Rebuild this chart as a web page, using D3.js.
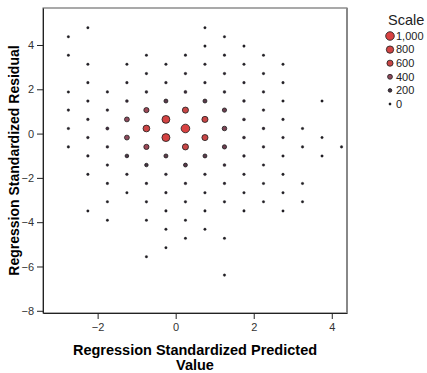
<!DOCTYPE html>
<html>
<head>
<meta charset="utf-8">
<script src="https://cdn.jsdelivr.net/npm/d3@7"></script>
<style>
  body { margin: 0; background: #fff; }
  svg { font-family: Arial, "Liberation Sans", sans-serif; }
</style>
</head>
<body>
<div id="chart"></div>
<script>
// hex-binned predicted value columns
const predictedBins = [-2.75, -2.25, -1.75, -1.25, -0.75, -0.25, 0.25, 0.75, 1.25, 1.75, 2.25, 2.75, 3.25, 3.75, 4.25];

// residual bin centres in each column (top to bottom)
const residualsByBin = [
    [4.37, 3.54, 1.88, 1.06, 0.23, -0.60],
    [4.78, 3.13, 2.30, 1.47, 0.64, -0.18, -1.01, -1.84, -3.49],
    [1.88, 1.06, 0.23, -0.60, -1.42, -2.25, -3.08, -3.91],
    [3.13, 2.30, 1.47, 0.64, -0.18, -1.01, -1.84, -2.67],
    [3.54, 2.71, 1.88, 1.06, 0.23, -0.60, -1.42, -2.25, -3.08, -3.91, -5.56],
    [3.13, 2.30, 1.47, 0.64, -0.18, -1.01, -1.84, -2.67, -3.49, -4.32, -5.15],
    [3.54, 2.71, 1.88, 1.06, 0.23, -0.60, -1.42, -2.25, -3.08, -3.91, -4.73],
    [4.78, 3.95, 3.13, 2.30, 1.47, 0.64, -0.18, -1.01, -1.84, -2.67, -3.49, -4.32],
    [4.37, 3.54, 2.71, 1.88, 1.06, 0.23, -0.60, -1.42, -2.25, -3.08, -4.73, -6.39],
    [3.95, 3.13, 2.30, 1.47, 0.64, -0.18, -1.01, -1.84, -2.67, -3.49],
    [3.54, 2.71, 1.88, 1.06, 0.23, -0.60, -1.42, -2.25, -3.08],
    [3.13, 2.30, 1.47, 0.64, -0.18, -1.01, -1.84, -2.67, -3.49],
    [0.23, -0.60, -2.25, -3.08],
    [1.47, -0.18, -1.01],
    [-0.60]
];

// number of cases in each bin (same layout as above)
const countsByBin = [
    [20, 25, 30, 40, 40, 30],
    [20, 30, 40, 50, 60, 60, 50, 30, 20],
    [40, 70, 150, 80, 50, 40, 30, 20],
    [30, 50, 100, 400, 400, 200, 60, 30],
    [30, 40, 80, 450, 700, 450, 180, 60, 40, 30, 20],
    [40, 60, 250, 880, 900, 260, 80, 50, 40, 30, 20],
    [40, 60, 120, 600, 1000, 600, 240, 70, 50, 30, 20],
    [20, 30, 50, 60, 250, 600, 600, 250, 70, 40, 30, 20],
    [20, 40, 60, 80, 300, 350, 300, 100, 50, 40, 20, 20],
    [30, 40, 50, 80, 100, 100, 70, 50, 40, 30],
    [30, 40, 50, 60, 80, 60, 40, 30, 20],
    [30, 40, 40, 50, 50, 40, 30, 30, 20],
    [30, 30, 20, 20],
    [20, 20, 20],
    [20]
];

const xTicks = [-2, 0, 2, 4];
const yTicks = [-8, -6, -4, -2, 0, 2, 4];
const legendValues = [1000, 800, 600, 400, 200, 0];

const points = [];
predictedBins.forEach((px, i) => {
    residualsByBin[i].forEach((ry, j) => {
        points.push({ x: px, y: ry, n: countsByBin[i][j] });
    });
});

const width = 427, height = 373;
const plot = { left: 43, top: 8, right: 347, bottom: 313 };

const svg = d3.select("#chart").append("svg")
    .attr("width", width)
    .attr("height", height);

const x = d3.scaleLinear().domain([-3.4, 4.39]).range([plot.left, plot.right]);
const y = d3.scaleLinear().domain([-8.1, 5.67]).range([plot.bottom, plot.top]);
const r = d3.scaleLinear().domain([0, 1000]).range([1.2, 4.3]);
const color = d3.scaleLinear()
    .domain([0, 200, 400, 600, 1000])
    .range(["#1c1c22", "#4a3444", "#8e4a5c", "#c84646", "#d94242"]);

// frame
svg.append("rect")
    .attr("x", plot.left)
    .attr("y", plot.top)
    .attr("width", plot.right - plot.left)
    .attr("height", plot.bottom - plot.top)
    .attr("fill", "#fff")
    .attr("stroke", "#555")
    .attr("stroke-width", 1);

svg.append("line")
    .attr("x1", plot.right).attr("x2", plot.right)
    .attr("y1", plot.top).attr("y2", plot.bottom)
    .attr("stroke", "#888").attr("stroke-width", 2);

const xAxis = svg.append("g")
    .attr("transform", `translate(0,${plot.bottom})`)
    .call(d3.axisBottom(x).tickValues(xTicks).tickSize(6).tickSizeOuter(0).tickPadding(4));

const yAxis = svg.append("g")
    .attr("transform", `translate(${plot.left},0)`)
    .call(d3.axisLeft(y).tickValues(yTicks).tickSize(6).tickSizeOuter(0).tickPadding(3));

[xAxis, yAxis].forEach(a => {
    a.select(".domain").attr("stroke", "#222");
    a.selectAll(".tick line").attr("stroke", "#222");
    a.selectAll(".tick text")
        .attr("fill", "#333")
        .style("font-size", "11px")
        .style("font-family", "Arial, 'Liberation Sans', sans-serif");
});

// binned points, small first so large ones sit on top
svg.append("g")
    .selectAll("circle")
    .data(points.slice().sort((a, b) => a.n - b.n))
    .join("circle")
    .attr("cx", d => x(d.x))
    .attr("cy", d => y(d.y))
    .attr("r", d => r(d.n))
    .attr("fill", d => color(d.n))
    .attr("stroke", "#1a1a1a")
    .attr("stroke-width", d => d.n > 150 ? 0.8 : 0.3);

// axis titles
svg.append("text")
    .attr("transform", `translate(19,${(plot.top + plot.bottom) / 2}) rotate(-90)`)
    .attr("text-anchor", "middle")
    .style("font-size", "14px")
    .style("font-weight", "bold")
    .text("Regression Standardized Residual");

const xTitle = svg.append("g")
    .attr("text-anchor", "middle")
    .style("font-size", "14.5px")
    .style("font-weight", "bold");
xTitle.append("text")
    .attr("x", (plot.left + plot.right) / 2)
    .attr("y", 355)
    .text("Regression Standardized Predicted");
xTitle.append("text")
    .attr("x", (plot.left + plot.right) / 2)
    .attr("y", 370)
    .text("Value");

// legend
const legend = svg.append("g");
legend.append("text")
    .attr("x", 388)
    .attr("y", 25)
    .attr("fill", "#222")
    .style("font-size", "14.5px")
    .text("Scale");

const item = legend.selectAll("g.item")
    .data(legendValues)
    .join("g")
    .attr("class", "item")
    .attr("transform", (d, i) => `translate(390,${36 + i * 13.6})`);

item.append("circle")
    .attr("r", d => r(d))
    .attr("fill", d => color(d))
    .attr("stroke", "#1a1a1a")
    .attr("stroke-width", d => d > 150 ? 0.8 : 0.3);

item.append("text")
    .attr("x", 6)
    .attr("dy", "0.35em")
    .attr("fill", "#222")
    .style("font-size", "11px")
    .text(d => d3.format(",")(d));
</script>
</body>
</html>
